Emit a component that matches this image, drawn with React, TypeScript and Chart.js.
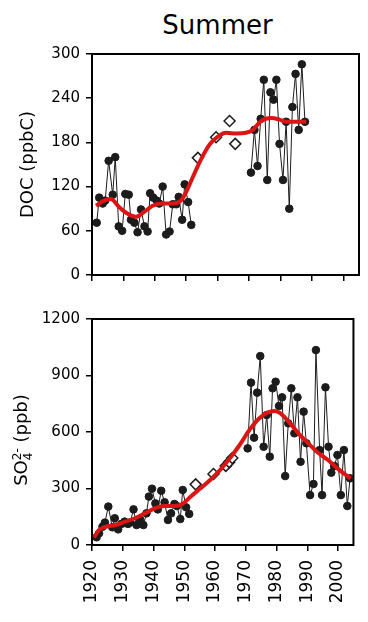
import React, { useEffect, useRef } from 'react';
import { Chart, registerables } from 'chart.js';

Chart.register(...registerables);

const FONT = "'DejaVu Sans', sans-serif";

// sampling years (annual summer samples)
const earlyYears = [1921.5, 1922.3, 1923.4, 1924.2, 1925.3, 1926.6, 1927.4, 1928.5, 1929.6, 1930.6, 1931.7, 1932.4, 1933.5, 1934.5, 1935.6, 1936.7, 1937.7, 1938.5, 1939.5, 1940.6, 1941.4, 1942.5, 1943.6, 1944.7, 1945.7, 1946.8, 1947.6, 1948.7, 1949.5, 1950.6, 1951.6];
const lateYears = [1970.6, 1971.7, 1972.7, 1973.7, 1974.7, 1975.8, 1976.8, 1977.8, 1978.7, 1979.7, 1980.8, 1981.8, 1982.8, 1983.8, 1984.8, 1985.8, 1986.8, 1987.8, 1988.8, 1989.7, 1990.9, 1992.0, 1992.8, 1994.0, 1994.8, 1995.9, 1996.9, 1997.8, 1998.8, 1999.8, 2000.9, 2001.9, 2003.0, 2003.9];

// DOC (ppbC)
const docEarly = [71, 105, 97, 101, 155, 109, 160, 66, 60, 110, 109, 75, 71, 58, 89, 66, 59, 111, 105, 101, 97, 120, 55, 59, 96, 96, 106, 75, 123, 99, 68];
const docLate = [139, 197, 148, 212, 265, 129, 248, 238, 265, 178, 129, 208, 90, 228, 273, 197, 286, 208];
const docOtherYears = [1953.7, 1959.5, 1963.8, 1965.6];
const docOther = [159, 187, 209, 178];
const docFitYears = [1921.3, 1923.4, 1926, 1928.7, 1931.4, 1934, 1936.7, 1939.3, 1942.5, 1945.7, 1948.3, 1949.9, 1952, 1954.7, 1957.4, 1959.5, 1962.7, 1965.9, 1969, 1971.2, 1973.8, 1977, 1979.7, 1981.8, 1985, 1988.2];
const docFit = [94, 100, 103, 92, 83, 79, 86, 94, 97, 97, 101, 112, 132, 157, 177, 186, 193, 192, 193, 197, 209, 213, 211, 208, 208, 208];

// SO4 2- (ppb)
const so4Early = [41, 62, 97, 119, 204, 94, 142, 83, 112, 124, 112, 119, 189, 106, 136, 106, 168, 257, 299, 221, 189, 288, 227, 133, 168, 218, 207, 138, 292, 200, 165];
const so4Late = [513, 862, 570, 809, 1003, 522, 690, 469, 832, 867, 738, 784, 366, 646, 832, 593, 784, 442, 708, 540, 265, 324, 1035, 504, 265, 837, 522, 384, 419, 478, 265, 504, 207, 354];
const so4OtherYears = [1953.7, 1959.5, 1963.5, 1964.6, 1965.6];
const so4Other = [322, 377, 420, 440, 462];
const so4FitYears = [1920.7, 1922.3, 1924.5, 1927.6, 1930.8, 1934, 1937.2, 1940.4, 1943.6, 1946.8, 1949.4, 1952.1, 1955.3, 1958.4, 1961.6, 1964.8, 1968, 1971.2, 1974.4, 1977, 1979.4, 1981.3, 1983.9, 1987.1, 1990.3, 1993.5, 1996.7, 1999.8, 2002.5, 2004.1];
const so4Fit = [41, 80, 97, 106, 124, 142, 168, 195, 207, 207, 218, 257, 301, 345, 398, 460, 531, 611, 673, 703, 712, 699, 655, 593, 540, 490, 451, 407, 372, 354];

// axis ticks
const xMin = 1920;
const xMax = 2005;
const xTickValues = [1920, 1930, 1940, 1950, 1960, 1970, 1980, 1990, 2000];
const docTicks = { min: 0, max: 300, step: 60 };
const so4Ticks = { min: 0, max: 1200, step: 300 };

const zip = (xs: number[], ys: number[]) => ys.map((y, i) => ({ x: xs[i], y }));

const framePlugin = {
  id: 'frame',
  beforeDatasetsDraw(chart: any) {
    const { ctx, chartArea: a } = chart;
    ctx.save();
    ctx.strokeStyle = '#000';
    ctx.lineWidth = 2;
    ctx.strokeRect(a.left, a.top, a.right - a.left, a.bottom - a.top);
    ctx.restore();
  },
};

const so4TitlePlugin = {
  id: 'so4Title',
  afterDraw(chart: any) {
    const ctx = chart.ctx;
    const big = `18px ${FONT}`;
    const small = `12px ${FONT}`;
    ctx.save();
    ctx.font = big;
    const wSO = ctx.measureText('SO').width;
    const wRest = ctx.measureText(' (ppb)').width;
    ctx.font = small;
    const w4 = ctx.measureText('4').width;
    const w2 = ctx.measureText('2-').width;
    const total = wSO + Math.max(w4, w2) + wRest;
    ctx.translate(27, 150);
    ctx.rotate(-Math.PI / 2);
    ctx.fillStyle = '#000';
    ctx.textBaseline = 'alphabetic';
    ctx.textAlign = 'left';
    let x = -total / 2;
    ctx.font = big;
    ctx.fillText('SO', x, 0);
    x += wSO;
    ctx.font = small;
    ctx.fillText('4', x, 5);
    ctx.fillText('2-', x, -6);
    x += Math.max(w4, w2);
    ctx.font = big;
    ctx.fillText(' (ppb)', x, 0);
    ctx.restore();
  },
};

function xScale(showLabels: boolean, height: number) {
  return {
    type: 'linear',
    min: xMin,
    max: xMax,
    afterBuildTicks: (s: any) => {
      s.ticks = xTickValues.map((v) => ({ value: v }));
    },
    afterFit: (s: any) => {
      s.height = height;
    },
    ticks: {
      display: showLabels,
      autoSkip: false,
      maxRotation: 90,
      minRotation: 90,
      padding: 9,
      color: '#000',
      font: { family: FONT, size: 17 },
      callback: (v: any) => String(v),
    },
    grid: { drawOnChartArea: false, drawTicks: true, tickLength: 6, color: '#000', lineWidth: 1.5 },
    border: { display: false },
  };
}

function yScale(t: { min: number; max: number; step: number }, title: string | null) {
  return {
    type: 'linear',
    min: t.min,
    max: t.max,
    afterFit: (s: any) => {
      s.width = 92;
    },
    ticks: {
      stepSize: t.step,
      padding: 6,
      color: '#000',
      font: { family: FONT, size: 15 },
      callback: (v: any) => String(v),
    },
    grid: { drawOnChartArea: false, drawTicks: true, tickLength: 6, color: '#000', lineWidth: 1.5 },
    border: { display: false },
    title: {
      display: !!title,
      text: title || '',
      color: '#000',
      font: { family: FONT, size: 18 },
      padding: { top: 18, bottom: 0 },
    },
  };
}

function datasets(early: number[], late: number[], lateYrs: number[], oy: number[], ov: number[], fy: number[], fv: number[]) {
  const dot = {
    borderColor: '#1c1c1c',
    backgroundColor: '#1c1c1c',
    borderWidth: 1,
    pointRadius: 3.8,
    pointBorderWidth: 1,
    tension: 0,
    order: 3,
  };
  return [
    {
      label: 'fit',
      data: zip(fy, fv),
      borderColor: '#dc1414',
      borderWidth: 4,
      pointRadius: 0,
      cubicInterpolationMode: 'monotone',
      order: 0,
    },
    {
      label: 'other',
      data: zip(oy, ov),
      showLine: false,
      pointStyle: 'rectRot',
      pointRadius: 5.5,
      pointBorderWidth: 1.5,
      borderColor: '#1c1c1c',
      backgroundColor: '#ffffff',
      order: 1,
    },
    { label: 'early', data: zip(earlyYears, early), ...dot },
    { label: 'late', data: zip(lateYrs, late), ...dot },
  ];
}

export default function App() {
  const topRef = useRef<HTMLCanvasElement>(null);
  const botRef = useRef<HTMLCanvasElement>(null);

  useEffect(() => {
    document.body.style.margin = '0';
    const common = {
      animation: false,
      responsive: false,
      devicePixelRatio: 1,
      events: [],
      plugins: { legend: { display: false }, tooltip: { enabled: false }, title: { display: false } },
    };
    const top = new Chart(topRef.current as HTMLCanvasElement, {
      type: 'line',
      data: {
        datasets: datasets(docEarly, docLate, lateYears.slice(0, docLate.length), docOtherYears, docOther, docFitYears, docFit) as any,
      },
      options: {
        ...common,
        layout: { padding: { top: 54, right: 9, left: 0, bottom: 0 } },
        scales: { x: xScale(false, 11), y: yScale(docTicks, 'DOC (ppbC)') },
      } as any,
      plugins: [framePlugin],
    });
    const bot = new Chart(botRef.current as HTMLCanvasElement, {
      type: 'line',
      data: {
        datasets: datasets(so4Early, so4Late, lateYears, so4OtherYears, so4Other, so4FitYears, so4Fit) as any,
      },
      options: {
        ...common,
        layout: { padding: { top: 29, right: 9, left: 0, bottom: 0 } },
        scales: { x: xScale(true, 77), y: yScale(so4Ticks, null) },
      } as any,
      plugins: [framePlugin, so4TitlePlugin],
    });
    return () => {
      top.destroy();
      bot.destroy();
    };
  }, []);

  return (
    <div style={{ position: 'absolute', left: 0, top: 0, width: 368, height: 622, background: '#fff' }}>
      <div
        style={{
          position: 'absolute',
          left: 0,
          top: 12,
          width: 435,
          textAlign: 'center',
          fontFamily: FONT,
          fontSize: 26,
          lineHeight: '26px',
          color: '#000',
        }}
      >
        Summer
      </div>
      <canvas ref={topRef} width={368} height={290} style={{ position: 'absolute', left: 0, top: 0, display: 'block' }} />
      <canvas ref={botRef} width={368} height={332} style={{ position: 'absolute', left: 0, top: 290, display: 'block' }} />
    </div>
  );
}
